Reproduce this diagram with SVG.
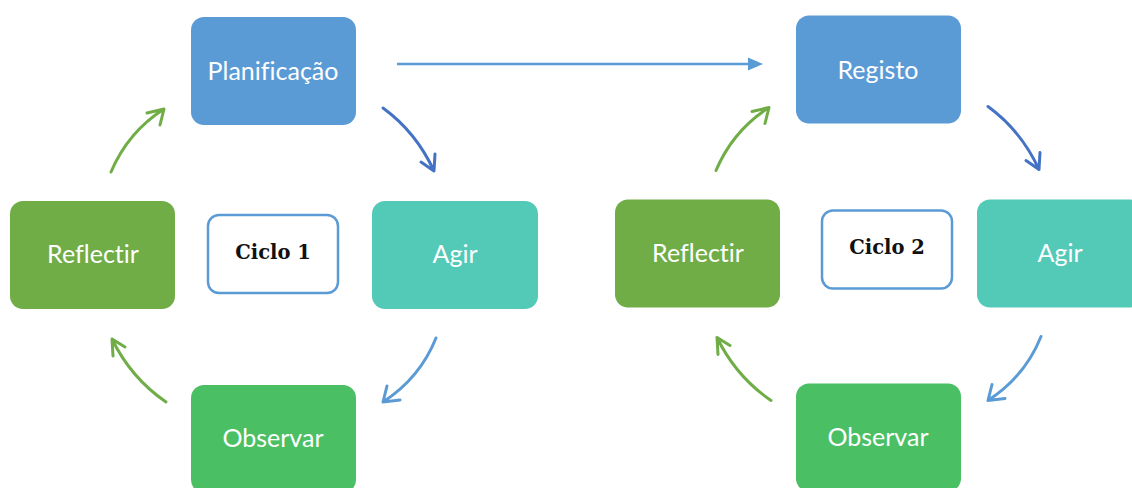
<svg xmlns="http://www.w3.org/2000/svg" width="1132" height="488" viewBox="0 0 1132 488">
<style>
.lbl{font-family:Lato,"Open Sans","Liberation Sans",sans-serif;font-size:25px;fill:#fff;text-anchor:middle;dominant-baseline:central;font-variant-ligatures:none}
.cy{font-family:"DejaVu Serif","Liberation Serif",serif;font-size:19.5px;font-weight:bold;fill:#111;text-anchor:middle;dominant-baseline:central}
.cbox{fill:#fff;stroke:#5B9BD5;stroke-width:2.5}
.arr{fill:none;stroke-width:3;stroke-linecap:round;stroke-linejoin:round}
.g{stroke:#70AD47}.db{stroke:#4472C4}.lb{stroke:#5B9BD5}
</style>
<rect width="1132" height="488" fill="#fff"/>
<g id="cycle1">
<g id="planificacao"><rect x="191" y="17" width="165" height="108" rx="13" fill="#5B9BD5"/><text class="lbl" x="273" y="70">Planificação</text></g>
<g id="agir1"><rect x="372" y="201" width="166" height="108" rx="13" fill="#53C9B7"/><text class="lbl" x="455" y="253">Agir</text></g>
<g id="observar1"><rect x="191" y="385" width="165" height="108" rx="13" fill="#4ABF63"/><text class="lbl" x="273" y="437">Observar</text></g>
<g id="reflectir1"><rect x="10" y="201" width="165" height="108" rx="13" fill="#70AD47"/><text class="lbl" x="93" y="253">Reflectir</text></g>
<g id="ciclo1"><rect class="cbox" x="208" y="215" width="130" height="78" rx="11"/><text class="cy" x="273" y="252">Ciclo 1</text></g>
</g>
<g id="cycle2" transform="translate(605,-1.5)">
<g id="registo"><rect x="191" y="17" width="165" height="108" rx="13" fill="#5B9BD5"/><text class="lbl" x="273" y="70">Registo</text></g>
<g id="agir2"><rect x="372" y="201" width="166" height="108" rx="13" fill="#53C9B7"/><text class="lbl" x="455" y="253">Agir</text></g>
<g id="observar2"><rect x="191" y="385" width="165" height="108" rx="13" fill="#4ABF63"/><text class="lbl" x="273" y="437">Observar</text></g>
<g id="reflectir2"><rect x="10" y="201" width="165" height="108" rx="13" fill="#70AD47"/><text class="lbl" x="93" y="253">Reflectir</text></g>
<g id="ciclo2"><rect class="cbox" x="217" y="212" width="130" height="78" rx="11"/><text class="cy" x="282" y="249">Ciclo 2</text></g>
</g>
<g id="connectors">
<line x1="397" y1="64" x2="752" y2="64" stroke="#5B9BD5" stroke-width="2.5"/>
<polygon points="748,57.5 763,64 748,70.5" fill="#5B9BD5"/>
<g id="arrows1">
<path class="arr g" d="M111,172 Q128,132 164,109 M147,113 L164,109 L160,125"/>
<path class="arr db" d="M383,108 Q416,132 434,171 M421,162 L434,171 L435,154"/>
<path class="arr lb" d="M436,338 Q420,378 383,402 M400,400 L383,402 L387,386"/>
<path class="arr g" d="M166,402 Q131,378 112,339 M125,347 L112,339 L113,356"/>
</g>
<g id="arrows2" transform="translate(605,-1.5)">
<path class="arr g" d="M111,172 Q128,132 164,109 M147,113 L164,109 L160,125"/>
<path class="arr db" d="M383,108 Q416,132 434,171 M421,162 L434,171 L435,154"/>
<path class="arr lb" d="M436,338 Q420,378 383,402 M400,400 L383,402 L387,386"/>
<path class="arr g" d="M166,402 Q131,378 112,339 M125,347 L112,339 L113,356"/>
</g>
</g>
</svg>
